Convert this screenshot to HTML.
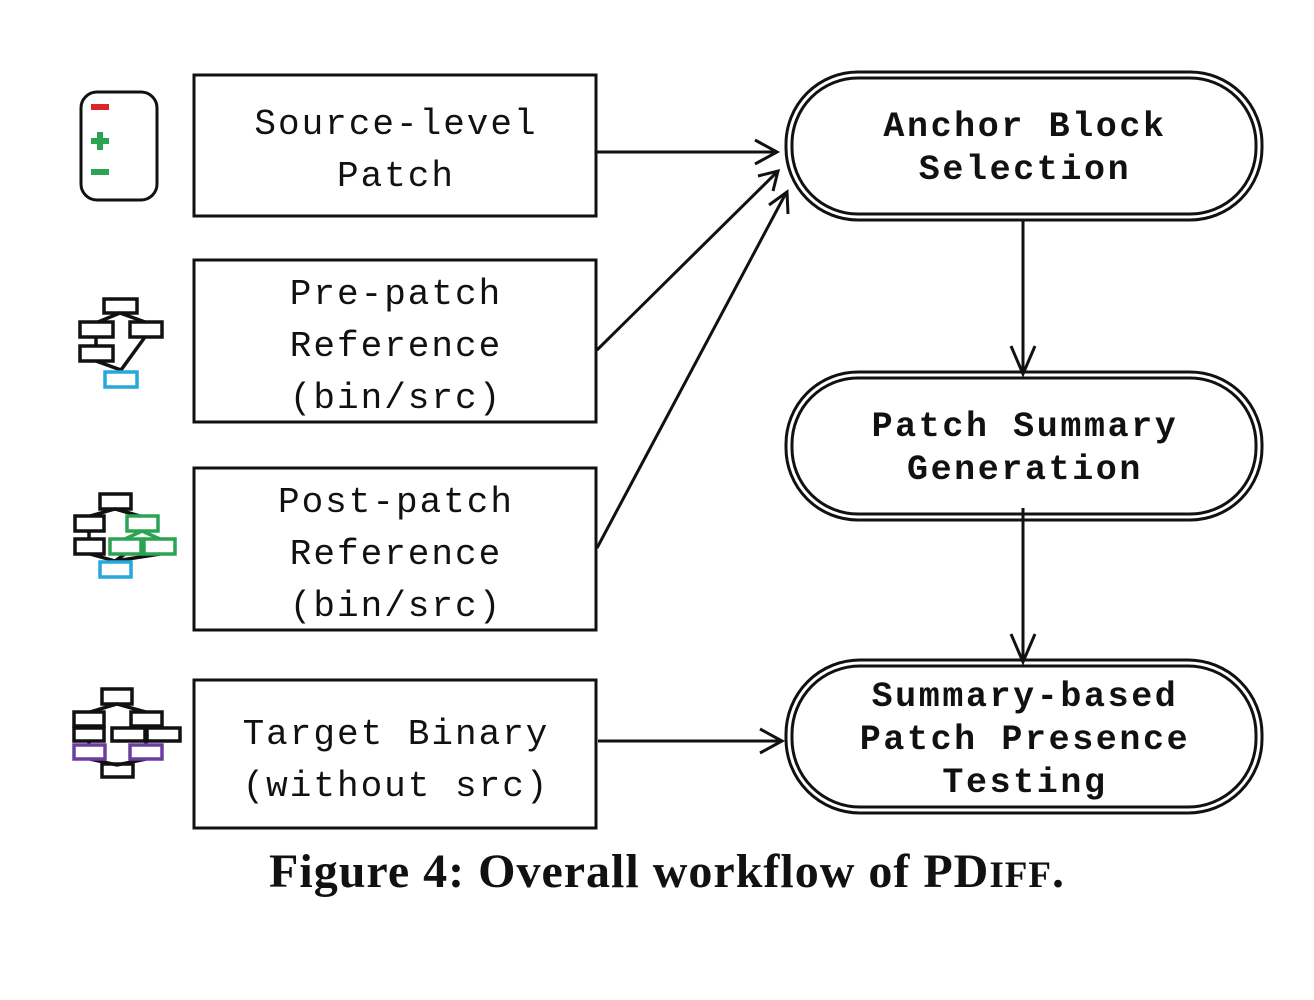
<!DOCTYPE html>
<html><head><meta charset="utf-8"><style>
html,body{margin:0;padding:0;background:#fff;}
svg{display:block}
.m{font-family:"Liberation Mono","DejaVu Sans Mono",monospace;font-size:36px;letter-spacing:2px;fill:#111;text-anchor:middle}
.b{font-weight:bold;font-size:35px;letter-spacing:2.6px}
</style></head><body>
<svg width="1314" height="1000" viewBox="0 0 1314 1000" xmlns="http://www.w3.org/2000/svg">
<g fill="none" stroke="#111" stroke-width="3">
<rect x="194" y="75" width="402" height="141"/>
<rect x="194" y="260" width="402" height="162"/>
<rect x="194" y="468" width="402" height="162"/>
<rect x="194" y="680" width="402" height="148"/>
<rect x="786" y="72" width="476" height="148" rx="72"/>
<rect x="792" y="78" width="464" height="136" rx="66"/>
<rect x="786" y="372" width="476" height="148" rx="72"/>
<rect x="792" y="378" width="464" height="136" rx="66"/>
<rect x="786" y="660" width="476" height="153" rx="74"/>
<rect x="792" y="666" width="464" height="141" rx="68"/>
<line x1="597" y1="152" x2="775" y2="152"/>
<polyline points="755,140 777,152 755,164"/>
<line x1="597" y1="350" x2="777" y2="172"/>
<polyline points="758,176 778,171 773,191"/>
<line x1="597" y1="548" x2="786" y2="193"/>
<polyline points="769,205 787,192 788,214"/>
<line x1="598" y1="741" x2="780" y2="741"/>
<polyline points="760,729 782,741 760,753"/>
<line x1="1023" y1="220" x2="1023" y2="374"/>
<polyline points="1011,346 1023,374 1035,346"/>
<line x1="1023" y1="508" x2="1023" y2="662"/>
<polyline points="1011,634 1023,662 1035,634"/>
</g>
<text class="m" x="396" y="134">Source-level</text>
<text class="m" x="396" y="186">Patch</text>
<text class="m" x="396" y="304">Pre-patch</text>
<text class="m" x="396" y="356">Reference</text>
<text class="m" x="396" y="408">(bin/src)</text>
<text class="m" x="396" y="512">Post-patch</text>
<text class="m" x="396" y="564">Reference</text>
<text class="m" x="396" y="616">(bin/src)</text>
<text class="m" x="396" y="744">Target Binary</text>
<text class="m" x="396" y="796">(without src)</text>
<text class="m b" x="1025" y="136">Anchor Block</text>
<text class="m b" x="1025" y="179">Selection</text>
<text class="m b" x="1025" y="436">Patch Summary</text>
<text class="m b" x="1025" y="479">Generation</text>
<text class="m b" x="1025" y="706">Summary-based</text>
<text class="m b" x="1025" y="749">Patch Presence</text>
<text class="m b" x="1025" y="792">Testing</text>
<text x="667" y="887" text-anchor="middle" font-family="Liberation Serif,serif" font-weight="bold" font-size="48" letter-spacing="1" fill="#111">Figure 4: Overall workflow of PD<tspan font-size="37">IFF</tspan>.</text>
<!-- icon1 -->
<rect x="81" y="92" width="76" height="108" rx="16" fill="none" stroke="#111" stroke-width="3"/>
<rect x="91" y="104" width="18" height="6" fill="#d9262b"/>
<rect x="91" y="138" width="18" height="6" fill="#2aa452"/>
<rect x="97" y="132" width="6" height="18" fill="#2aa452"/>
<rect x="91" y="169" width="18" height="6" fill="#2aa452"/>
<!-- icon2 -->
<g fill="none" stroke="#111" stroke-width="3.5">
<rect x="104" y="299" width="33" height="14"/>
<rect x="80" y="322" width="33" height="15"/>
<rect x="130" y="322" width="32" height="15"/>
<rect x="80" y="346" width="33" height="15"/>
<path d="M98,322 L120,313 L145,322 M96,337 V346 M145,337 L121,370 L96,361"/>
<rect x="105" y="372" width="32" height="15" stroke="#27a7db"/>
<!-- icon3 -->
<rect x="100" y="494" width="31" height="15"/>
<rect x="75" y="516" width="29" height="15"/>
<rect x="75" y="539" width="29" height="15"/>
<path d="M90,516 L115,509 L140,516 M89,531 V539 M90,554 L115,561 L160,554 M125,554 L115,561"/>
<rect x="127" y="516" width="31" height="15" stroke="#2aa452"/>
<rect x="110" y="539" width="31" height="15" stroke="#2aa452"/>
<rect x="144" y="539" width="31" height="15" stroke="#2aa452"/>
<path d="M125,539 L142,531 L160,539" stroke="#2aa452"/>
<rect x="100" y="562" width="31" height="15" stroke="#27a7db"/>
<!-- icon4 -->
<rect x="102" y="689" width="30" height="15"/>
<rect x="74" y="712" width="30" height="14"/>
<rect x="131" y="712" width="31" height="14"/>
<rect x="74" y="728" width="30" height="13"/>
<rect x="112" y="728" width="33" height="13"/>
<rect x="147" y="728" width="33" height="13"/>
<path d="M90,712 L117,704 L146,712 M89,741 V745 M146,741 V745 M90,759 L117,765 L146,759"/>
<rect x="74" y="745" width="31" height="14" stroke="#6b3fa0"/>
<rect x="130" y="745" width="32" height="14" stroke="#6b3fa0"/>
<rect x="102" y="764" width="31" height="13"/>
</g>
</svg>
</body></html>
